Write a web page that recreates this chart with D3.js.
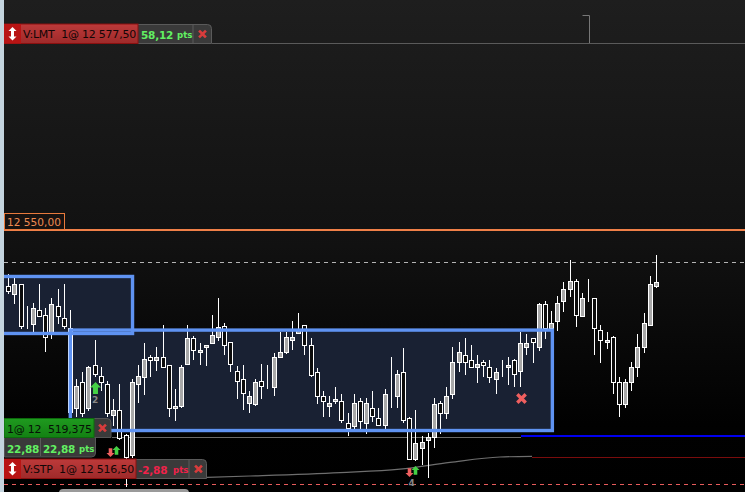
<!DOCTYPE html>
<html><head><meta charset="utf-8">
<script src="https://cdnjs.cloudflare.com/ajax/libs/d3/7.8.5/d3.min.js"></script>
<style>html,body{margin:0;padding:0;background:#000;overflow:hidden}svg{display:block}text{font-family:"DejaVu Sans",sans-serif;white-space:pre}</style>
</head><body><svg id="c" width="745" height="492"></svg>
<script>
// All prices are points above this base
const priceBase = 12500;
const open  = [41.7,40.6,42.0,36.7,36.2,38.2,37.4,34.7,38.8,37.0,35.6,23.8,27.6,23.8,30.1,28.5,27.3,22.8,23.5,19.8,16.8,27.3,28.3,31.3,30.8,31.3,30.1,23.8,24.1,30.3,34.1,32.0,32.8,33.3,34.2,35.8,33.5,29.2,28.0,24.5,24.3,27.8,27.3,26.8,31.3,32.0,33.8,34.8,36.0,33.0,29.1,25.5,24.1,24.8,24.8,21.6,21.1,24.8,21.6,23.8,22.3,21.3,25.5,25.5,29.1,22.3,16.3,17.9,19.1,19.5,24.5,23.0,25.8,30.5,31.6,30.8,29.8,30.5,29.8,28.0,29.1,29.8,30.8,29.2,32.8,34.1,32.8,39.1,35.5,36.6,39.5,41.3,42.5,37.3,39.9,40.0,35.3,33.5,34.2,27.6,24.4,27.6,29.8,32.8,36.0,41.7];
const high  = [43.5,43.0,42.1,38.8,39.3,42.1,38.5,39.9,41.3,42.1,38.2,28.0,29.1,29.9,33.8,29.8,27.7,25.1,27.3,19.9,28.0,30.1,33.3,31.5,32.8,36.0,30.1,26.6,30.1,36.0,34.3,33.4,33.1,37.4,40.0,36.3,33.5,29.9,30.1,26.2,28.1,30.3,30.1,31.8,34.9,35.0,36.6,37.8,36.0,34.1,29.6,26.3,25.5,26.9,25.9,23.1,25.9,25.3,25.3,26.3,23.8,26.6,31.3,29.3,32.6,22.4,23.5,19.6,20.1,25.3,24.8,26.9,32.8,33.5,34.1,33.1,31.6,30.9,30.9,29.6,30.9,31.3,31.0,35.0,34.6,34.1,39.3,39.6,38.1,40.3,42.4,45.6,42.8,40.7,42.8,40.0,36.0,34.9,34.3,28.4,28.1,30.6,34.6,37.8,43.2,46.3];
const low   = [40.6,39.1,35.4,35.4,34.9,37.2,32.0,34.0,36.2,35.4,22.9,22.5,22.4,23.3,28.3,26.2,22.4,21.1,19.0,12.1,16.4,24.5,25.7,28.4,29.2,29.6,22.5,21.8,23.8,30.3,30.9,30.1,30.0,33.3,33.7,31.6,29.1,25.1,23.4,23.1,24.0,25.1,26.5,25.5,31.3,31.7,32.3,34.8,31.5,28.4,24.3,22.5,22.5,24.4,21.5,19.7,20.6,20.6,20.0,21.7,21.3,20.7,23.7,23.7,21.5,16.3,16.0,15.3,13.5,17.9,20.0,22.2,25.1,29.1,28.7,29.8,27.5,28.4,27.5,25.9,28.4,27.2,26.8,26.8,31.6,30.4,32.2,34.0,35.5,35.1,37.9,40.1,35.7,37.3,39.4,31.5,30.4,32.5,25.9,22.5,23.7,26.2,28.4,31.9,36.0,41.5];
const close = [41.0,42.0,35.9,36.7,38.5,37.3,34.2,39.1,37.3,35.9,23.2,27.0,23.0,29.8,28.8,27.6,23.0,23.5,19.4,16.6,27.6,28.5,31.0,30.8,31.3,29.8,23.8,24.1,29.8,34.1,32.3,32.3,33.0,34.5,35.7,33.0,30.2,27.7,26.0,25.5,27.6,27.0,27.3,31.3,32.0,34.2,34.2,35.3,33.0,28.7,25.5,24.8,24.5,25.1,22.0,20.8,24.5,21.9,24.5,22.6,21.3,25.8,25.5,28.8,22.0,16.3,18.6,18.8,19.5,24.4,23.0,25.5,30.5,32.0,30.5,29.8,30.3,30.1,28.3,29.1,29.1,30.1,28.8,33.3,33.3,33.5,39.1,35.5,36.3,39.2,41.3,42.5,37.5,40.0,39.9,35.5,33.8,33.8,27.6,24.4,27.6,29.8,32.8,36.3,42.0,42.3];

const orderLevels = {limit:77.5, round:50, entry:19.375, stop:16.5};
const resistance = 45.2, floorDash = 12.5;
const trailIdx = [32.2,39.2,53.8,63.5,71.6,79.7,84.9];
const trailPx  = [13.5,13.7,14.2,14.7,15.7,16.5,16.6];
const zones = [
  {x0:-3, x1:20.14, top:43.1, bottom:34.7},
  {x0:10.05, x1:88.2, top:35.2, bottom:20.4}
];
const labelLimit = "V:LMT  1@ 12 577,50", labelStop = "V:STP  1@ 12 516,50", labelEntry = "1@ 12  519,375";
const labelRound = "12 550,00", gainLimit = "58,12", gainEntry = "22,88", gainStop = "-2,88", unit = "pts";

const svg = d3.select("#c");
const W = 745, H = 492;
const x = d3.scaleLinear().domain([0,105]).range([8.3,656]);
const y = d3.scaleLinear().domain([77.5,16.5]).range([43,457]);
const X = i => Math.round(x(i));
const Y = v => Math.round(y(v)+.3);
const L = v => Math.floor(y(v));

const defs = svg.append("defs");
const bg = defs.append("linearGradient").attr("id","bg").attr("x1",0).attr("x2",0).attr("y1",0).attr("y2",1);
bg.append("stop").attr("offset",0).attr("stop-color","#1e1e1e");
bg.append("stop").attr("offset",.5).attr("stop-color","#111111");
bg.append("stop").attr("offset",.86).attr("stop-color","#010101");
bg.append("stop").attr("offset",1).attr("stop-color","#000");
const red = defs.append("linearGradient").attr("id","red").attr("x1",0).attr("x2",0).attr("y1",0).attr("y2",1);
red.append("stop").attr("offset",0).attr("stop-color","#bd3a3a");
red.append("stop").attr("offset",1).attr("stop-color","#9e2a2a");
const grn = defs.append("linearGradient").attr("id","grn").attr("x1",0).attr("x2",0).attr("y1",0).attr("y2",1);
grn.append("stop").attr("offset",0).attr("stop-color","#1f9a1f");
grn.append("stop").attr("offset",1).attr("stop-color","#138013");

svg.append("rect").attr("width",W).attr("height",H).attr("fill","url(#bg)");

// zone fill
svg.selectAll(".zf").data(zones).join("rect").attr("class","zf")
  .attr("x",d=>x(d.x0)).attr("y",d=>y(d.top)).attr("width",d=>x(d.x1)-x(d.x0)).attr("height",d=>y(d.bottom)-y(d.top))
  .attr("fill","#192133");

// level lines
function hline(v,x0,x1,col,w,dash){
  const yy = w===2 ? Math.round(y(v)) - (v===orderLevels.entry?1:0) : L(v)+.5;
  svg.append("line").attr("x1",x0).attr("x2",x1).attr("y1",yy).attr("y2",yy)
    .attr("stroke",col).attr("stroke-width",w).attr("stroke-dasharray",dash||null).attr("shape-rendering","crispEdges");
}
hline(orderLevels.limit,212,W,"#5a5a5a",1);
hline(orderLevels.round,4,W,"#f08048",2);
hline(resistance,4,W,"#b4b4b4",1,"4 4");
hline(orderLevels.entry,112,521,"#6a6a6a",1);
hline(orderLevels.entry,521,W,"#0000ee",2);
hline(orderLevels.stop,532,W,"#7a0c0c",1);
hline(floorDash,4,W,"#e85c5c",1,"4 4");

// trailing curve
svg.append("path").datum(trailIdx.map((t,i)=>[t,trailPx[i]]))
  .attr("d",d3.line().x(d=>x(d[0])).y(d=>y(d[1])).curve(d3.curveMonotoneX))
  .attr("fill","none").attr("stroke","#6e6e6e").attr("stroke-width",1.2);

// small bracket at top
svg.append("path").attr("d","M582.5 15.5H589.5V43").attr("fill","none").attr("stroke","#777");

// candles
const candles = d3.range(open.length).map(i=>({i,o:open[i],h:high[i],l:low[i],c:close[i]}));
const g = svg.append("g").attr("shape-rendering","crispEdges");
g.selectAll(".w").data(candles).join("line").attr("class","w")
  .attr("x1",d=>X(d.i)+.5).attr("x2",d=>X(d.i)+.5).attr("y1",d=>Y(d.h)).attr("y2",d=>Y(d.l))
  .attr("stroke","#fff");
g.selectAll(".b").data(candles).join("rect").attr("class","b")
  .attr("x",d=>X(d.i)-2+.5).attr("width",4)
  .attr("y",d=>Y(Math.max(d.o,d.c))+.5)
  .attr("height",d=>Math.max(Y(Math.min(d.o,d.c))-Y(Math.max(d.o,d.c)),d.o===d.c?0:2))
  .attr("fill",d=>d.c>d.o?"#a8a8a8":"#0c0c0c").attr("stroke","#fff");

// zone borders
svg.selectAll(".zs").data(zones).join("rect").attr("class","zs")
  .attr("x",d=>x(d.x0)).attr("y",d=>y(d.top)).attr("width",d=>x(d.x1)-x(d.x0)).attr("height",d=>y(d.bottom)-y(d.top))
  .attr("fill","none").attr("stroke","#5f93f2").attr("stroke-width",3.4);

// arrows
function upArrow(cx,top,size,col){
  const s=size;
  svg.append("path").attr("d",`M${cx} ${top}l${s} ${s}h${-s*.55}v${s*1.2}h${-s*.9}v${-s*1.2}h${-s*.55}z`).attr("fill",col);
}
function downArrow(cx,bot,size,col){
  const s=size;
  svg.append("path").attr("d",`M${cx} ${bot}l${s} ${-s}h${-s*.55}v${-s*1.2}h${-s*.9}v${s*1.2}h${-s*.55}z`).attr("fill",col);
}
upArrow(95.5,382,5.5,"#45d045");
svg.append("text").attr("x",92).attr("y",403).attr("font-size",9).attr("font-weight","bold").attr("fill","#888").text("2");
downArrow(110.5,457,4,"#f06060"); upArrow(116.5,446,4,"#45d045");
downArrow(409.5,477,4,"#f06060"); upArrow(415.5,466,4,"#45d045");
svg.append("text").attr("x",408.5).attr("y",486).attr("font-size",9).attr("font-weight","bold").attr("fill","#888").text("4");

function cross(cx,cy,r,col,w){
  svg.append("path").attr("d",`M${cx-r} ${cy-r}L${cx+r} ${cy+r}M${cx+r} ${cy-r}L${cx-r} ${cy+r}`)
    .attr("stroke",col).attr("stroke-width",w).attr("stroke-linecap","square").attr("fill","none");
}
cross(521.5,398.5,3,"#ef5f5f",3.4);

// tabs
function tab(xp,yp,w,h,fill,stroke,tr,br){
  const r=4;
  const d=`M${xp} ${yp}H${xp+w-(tr?r:0)}${tr?`Q${xp+w} ${yp} ${xp+w} ${yp+r}`:""}V${yp+h-(br?r:0)}${br?`Q${xp+w} ${yp+h} ${xp+w-r} ${yp+h}`:""}H${xp}Z`;
  svg.append("path").attr("d",d).attr("fill",fill).attr("stroke",stroke||"none");
}
function txt(xp,yp,s,size,col,w,sp){
  return svg.append("text").attr("x",xp).attr("y",yp).attr("font-size",size).attr("font-weight",w||"normal").attr("letter-spacing",sp||0).attr("fill",col).text(s);
}
function orderRow(top,btnW,extraW,label,gain,gainCol,gainX,ptsX,ptsCol,xPos){
  tab(138-134+btnW-0.5,top+.5,extraW,19,"#3a3a3a","#5a5a5a",true,false);
  svg.append("line").attr("x1",xPos-9.5).attr("x2",xPos-9.5).attr("y1",top+1).attr("y2",top+19).attr("stroke","#5a5a5a");
  svg.append("rect").attr("x",4).attr("y",top).attr("width",btnW).attr("height",19.5).attr("fill","url(#red)").attr("stroke","#8a1010");
  svg.append("path").attr("d",`M4 ${top}h17v19.5h-17z`).attr("fill","#b81414");
  svg.append("path").attr("d",`M12.5 ${top+3}l4 4h-2.5v5.5h2.5l-4 4l-4 -4h2.5v-5.5h-2.5z`).attr("fill","#fff");
  txt(23,top+14,label,11,"#120606",null,-0.22);
  txt(gainX,top+14.5,gain,10.5,gainCol,"bold",-0.2);
  txt(ptsX,top+13.5,unit,8.6,ptsCol,"bold");
  cross(xPos,top+10,2.5,"#d83c3c",2.6);
}
orderRow(24,134,74,labelLimit,gainLimit,"#62f062",141,177,"#62f062",202.5);
orderRow(459,132,71,labelStop,gainStop,"#f0224a",138,173,"#f0224a",198.5);

// entry block
tab(4.5,437.5,91,19.5,"#3a3a3a","#555",false,true);
svg.append("line").attr("x1",40.5).attr("x2",40.5).attr("y1",438).attr("y2",456).attr("stroke","#5a5a5a");
tab(93.5,418.5,17.5,19,"#3a3a3a","#555",true,false);
svg.append("rect").attr("x",4).attr("y",418.5).attr("width",90).attr("height",19).attr("fill","url(#grn)").attr("stroke","#0c6a0c");
txt(7,433,labelEntry,11,"#061206",null,-0.22);
cross(102.5,428,2.5,"#d83c3c",2.6);
txt(7,452.5,gainEntry,10.5,"#62f062","bold",-0.2);
txt(43,452.5,gainEntry,10.5,"#62f062","bold",-0.2);
txt(79,451.5,unit,8.6,"#62f062","bold");

// orange round-number label
svg.append("rect").attr("x",4.5).attr("y",213.5).attr("width",60).attr("height",16).attr("fill","#171210").attr("stroke","#e87a3c");
txt(7,226,labelRound,10.6,"#ee8a50");

// left strip & scrollbar
svg.append("rect").attr("x",0).attr("y",0).attr("width",4).attr("height",H).attr("fill","#c4d4de");
svg.append("rect").attr("x",59).attr("y",489).attr("width",130).attr("height",8).attr("rx",4).attr("fill","#9a9a9a");
</script></body></html>
